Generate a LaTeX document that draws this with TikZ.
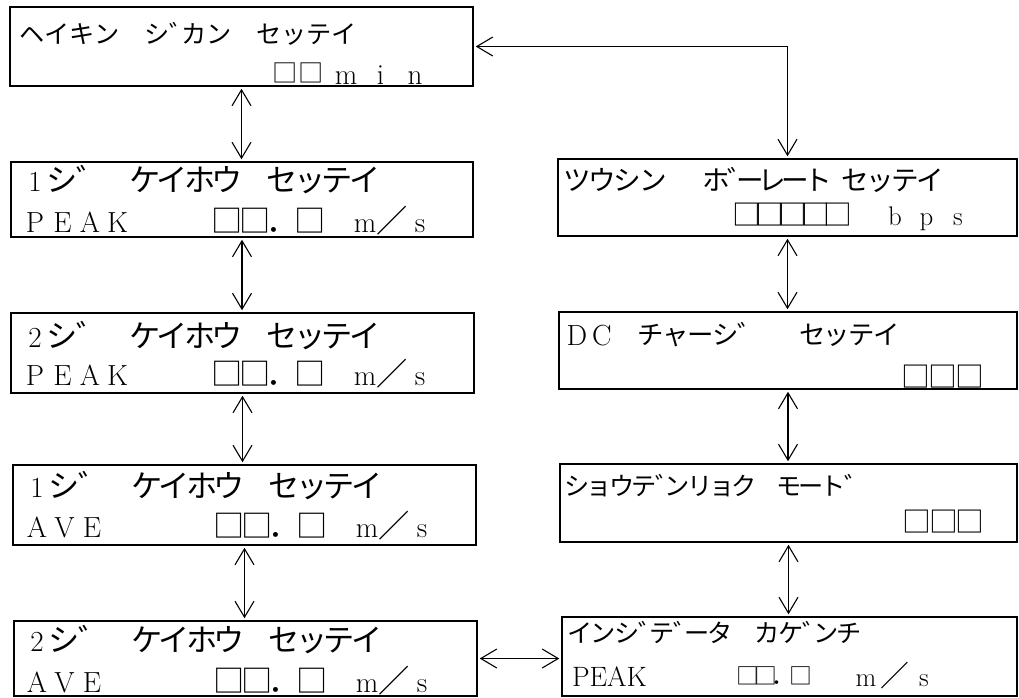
\documentclass[tikz,border=0pt]{standalone}
\usepackage{fontspec}
\newfontfamily\cjk{Noto Sans CJK JP}
\usepackage{tikz}
\usetikzlibrary{arrows.meta}

% one LCD line: every character sits in a cell of width \lcdw,
% a voiced mark takes half a cell, | is an empty half cell
\newlength\lcdw
\let\lcdstop\relax
\def\lcdstopmark{\lcdstop}
\def\lcdloop#1{\def\lcdtmp{#1}\ifx\lcdtmp\lcdstopmark\else\lcdcell#1\lcdend\expandafter\lcdloop\fi}
\def\lcdcell#1#2\lcdend{%
  \ifnum`#1=12443\relax\makebox[0.5\lcdw][l]{\lcdkana#1}%
  \else\ifx#1|\hspace*{0.5\lcdw}%
  \else\makebox[\lcdw]{\ifnum`#1<256\relax\lcdlat\else\lcdkana\fi#1#2}\fi\fi}
\def\lcdlat{\fontsize{\lcdszl}{\lcdszl}\rmfamily\selectfont}
\def\lcdkana{\fontsize{\lcdszk}{\lcdszk}\cjk}
\newcommand\lcdline[6]{% name, centre of first cell, centre of line, cell width, size, text
  \pgfmathsetmacro\lcdszk{1.2*#5}
  \pgfmathsetmacro\lcdszl{1.12*#5}
  \setlength\lcdw{#4pt}
  \node[lcdtext] (#1) at ({#2-#4/2},{#3+0.41*#5}) {\lcdloop#6\lcdstop};}

\tikzset{
  panel/.style 2 args={draw, line width=1.5pt, inner sep=0pt, minimum width=#1pt, minimum height=#2pt},
  lcdtext/.style={anchor=base west, inner sep=0pt, outer sep=0pt},
  link/.style={{Straight Barb[length=16pt,width=19pt]}-{Straight Barb[length=16pt,width=19pt]}, line width=1.1pt, shorten <=2pt, shorten >=2pt}
}

\begin{document}
\begin{tikzpicture}[x=1pt,y=-1pt]
\path[use as bounding box, fill=white] (0,0) rectangle (1019,697);

\node[panel={463}{79}] (idle) at (241.5,46.5) {};
\node[panel={462}{75}] (peak1) at (242,199.5) {};
\node[panel={463}{80}] (peak2) at (242.5,353) {};
\node[panel={463}{80}] (ave1) at (244.5,505) {};
\node[panel={463}{75}] (ave2) at (245.5,658.5) {};

\node[panel={459}{77}] (baud) at (787.5,197.5) {};
\node[panel={458}{77}] (dc) at (788,350.5) {};
\node[panel={457}{78}] (disp) at (788.5,503) {};
\node[panel={455}{79}] (data) at (789.5,656.5) {};

\lcdline{idleA}{32}{35}{25}{21}{ヘイキン　シ゛カン　セッテイ}
\lcdline{idleB}{285}{74}{26}{21}{□□}
\lcdline{idleC}{346}{74}{34.5}{26}{min}

\lcdline{peak1A}{35}{181}{27.5}{26}{1シ゛|　ケイホウ　セッテイ}
\lcdline{peak1B}{35}{222}{27.5}{26}{PEAK　　　□□．□　m／s}
\lcdline{peak2A}{35}{337}{27.5}{26}{2シ゛|　ケイホウ　セッテイ}
\lcdline{peak2B}{35}{375}{27.5}{26}{PEAK　　　□□．□　m／s}
\lcdline{ave1A}{37}{487}{27.5}{26}{1シ゛|　ケイホウ　セッテイ}
\lcdline{ave1B}{37}{527}{27.5}{26}{AVE　　　　□□．□　m／s}
\lcdline{ave2A}{37}{641}{27.5}{26}{2シ゛|　ケイホウ　セッテイ}
\lcdline{ave2B}{37}{682}{27.5}{26}{AVE　　　　□□．□　m／s}

\lcdline{baudA}{577}{181}{25.3}{23}{ツウシン}
\lcdline{baudB}{716}{181}{22.7}{23}{ホ゛ーレート}
\lcdline{baudC}{855}{181}{25}{23}{セッテイ}
\lcdline{baudD}{747}{216}{22.8}{24}{□□□□□}
\lcdline{baudE}{895}{216}{31.5}{24}{bps}
\lcdline{dcA}{577}{335}{24.8}{26}{DC}
\lcdline{dcB}{651}{335}{24.8}{22}{チャーシ゛　　セッテイ}
\lcdline{dcC}{916}{378}{27}{24}{□□□}
\lcdline{dispA}{577}{487}{22.3}{21}{ショウテ゛ンリョク　モート゛}
\lcdline{dispB}{917}{523}{26.5}{24}{□□□}
\lcdline{dataA}{580}{634}{23.4}{21}{インシ゛テ゛ータ　カケ゛ンチ}
\node[lcdtext, font=\fontsize{28}{28}\selectfont] (dataB) at (572,686.5) {PEAK};
\lcdline{dataC}{748}{677}{17.5}{19}{□□．□}
\lcdline{dataD}{866}{677}{29}{24}{m／s}

\draw[link] (idle.south) -- (idle.south |- peak1.north);
\draw[link] (peak1.south) -- (peak1.south |- peak2.north);
\draw[link] (peak2.south) -- (peak2.south |- ave1.north);
\draw[link] (ave1.south) -- (ave1.south |- ave2.north);

\draw[link] (idle.east) -- (idle.east -| baud.north) -- (baud.north);
\draw[link] (baud.south) -- (baud.south |- dc.north);
\draw[link] (dc.south) -- (dc.south |- disp.north);
\draw[link] (disp.south) -- (disp.south |- data.north);
\draw[link] (ave2.east) -- (data.west |- ave2.east);
\end{tikzpicture}
\end{document}
